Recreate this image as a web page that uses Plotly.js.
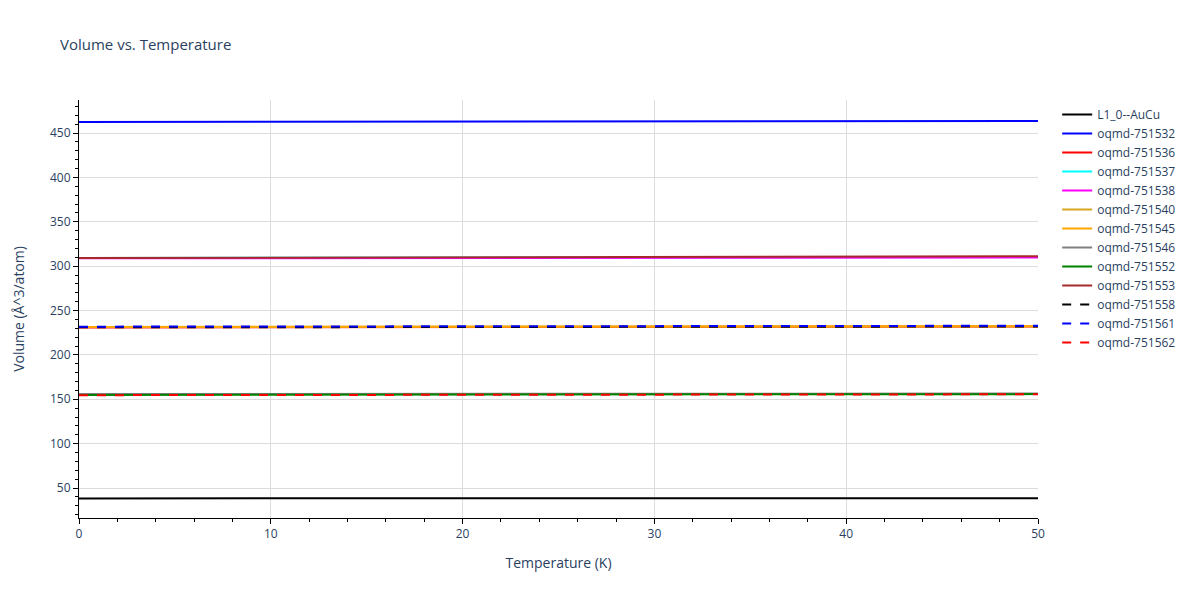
<!DOCTYPE html>
<html>
<head>
<meta charset="utf-8">
<script src="https://cdn.plot.ly/plotly-3.0.1.min.js"></script>
<style>body{margin:0;} #chart{width:1200px;height:600px;}</style>
</head>
<body>
<div id="chart"></div>
<script>
var temps = [0, 10, 20, 30, 40, 50];

var names = ['L1_0--AuCu', 'oqmd-751532', 'oqmd-751536', 'oqmd-751537', 'oqmd-751538',
  'oqmd-751540', 'oqmd-751545', 'oqmd-751546', 'oqmd-751552', 'oqmd-751553',
  'oqmd-751558', 'oqmd-751561', 'oqmd-751562'];

var vAuCu   = [38.3, 38.3, 38.4, 38.4, 38.5, 38.5];
var v751532 = [462.4, 462.6, 462.8, 463.1, 463.3, 463.6];
var v751536 = [230.9, 231.1, 231.3, 231.5, 231.7, 231.9];
var v751537 = [309.3, 309.5, 309.7, 309.9, 310.1, 310.3];
var v751538 = [308.8, 309.0, 309.2, 309.4, 309.6, 309.8];
var v751540 = [231.5, 231.7, 231.8, 232.0, 232.1, 232.3];
var v751545 = [231.4, 231.6, 231.7, 231.9, 232.0, 232.2];
var v751546 = [155.8, 155.9, 156.1, 156.2, 156.4, 156.5];
var v751552 = [154.8, 155.0, 155.2, 155.4, 155.6, 155.8];
var v751553 = [309.2, 309.6, 310.0, 310.4, 310.8, 311.2];
var v751558 = [231.0, 231.2, 231.4, 231.6, 231.8, 232.0];
var v751561 = [231.8, 232.0, 232.2, 232.4, 232.6, 232.8];
var v751562 = [154.6, 154.8, 155.0, 155.2, 155.4, 155.6];

var values = [vAuCu, v751532, v751536, v751537, v751538, v751540, v751545,
  v751546, v751552, v751553, v751558, v751561, v751562];
var colors = ['black', 'blue', 'red', 'cyan', 'magenta', 'goldenrod', 'orange',
  'grey', 'green', 'brown', 'black', 'blue', 'red'];
var dashes = ['solid', 'solid', 'solid', 'solid', 'solid', 'solid', 'solid',
  'solid', 'solid', 'solid', 'dash', 'dash', 'dash'];

var data = names.map(function (n, i) {
  return {
    x: temps, y: values[i], name: n, type: 'scatter', mode: 'lines',
    line: {color: colors[i], width: 2, dash: dashes[i]}
  };
});

var axisStyle = {
  showline: true, linecolor: 'black', linewidth: 1,
  ticks: 'outside', ticklen: 5, tickcolor: 'black',
  gridcolor: '#dcdcdc', zeroline: false,
  tickfont: {size: 12, color: '#2a3f5f'}
};

var layout = {
  width: 1200, height: 600,
  paper_bgcolor: 'white', plot_bgcolor: 'white',
  font: {family: 'Open Sans, Verdana, sans-serif', color: '#2a3f5f'},
  title: {text: 'Volume vs. Temperature', x: 0.05, xanchor: 'left', y: 0.925, yanchor: 'middle',
    font: {size: 15, color: '#2a3f5f'}},
  margin: {l: 79, r: 162, t: 100, b: 82},
  xaxis: Object.assign({}, axisStyle, {
    range: [0, 50], dtick: 10,
    minor: {dtick: 2, ticks: 'outside', ticklen: 3, tickcolor: 'black', showgrid: false},
    title: {text: 'Temperature (K)', standoff: 16, font: {size: 14, color: '#2a3f5f'}}
  }),
  yaxis: Object.assign({}, axisStyle, {
    range: [16.2, 487.2], dtick: 50, tick0: 0,
    minor: {dtick: 10, ticks: 'outside', ticklen: 3, tickcolor: 'black', showgrid: false},
    title: {text: 'Volume (Å^3/atom)', standoff: 22, font: {size: 14, color: '#2a3f5f'}}
  }),
  legend: {x: 1.02, y: 1, xanchor: 'left', yanchor: 'top', font: {size: 12, color: '#2a3f5f'}},
  showlegend: true
};

Plotly.newPlot('chart', data, layout, {displayModeBar: false});
</script>
</body>
</html>
